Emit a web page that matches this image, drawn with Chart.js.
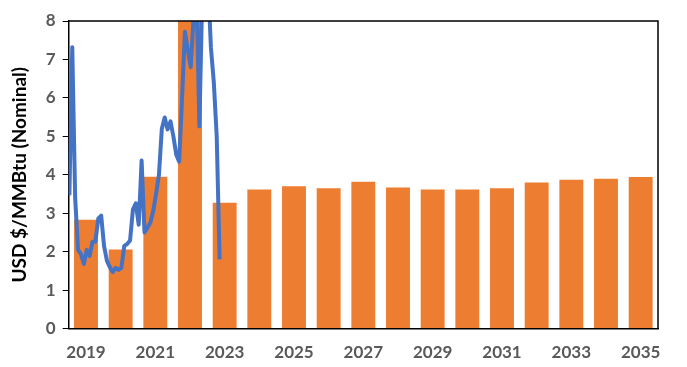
<!DOCTYPE html>
<html>
<head>
<meta charset="utf-8">
<script src="https://cdn.jsdelivr.net/npm/chart.js@4/dist/chart.umd.min.js"></script>
<style>
  html, body { margin: 0; padding: 0; background: #fff; }
  #wrap { width: 687px; height: 367px; }
</style>
</head>
<body>
<div id="wrap"><canvas id="myChart"></canvas></div>
<script>
// Annual forecast bars
const years = ["2019", "2020", "2021", "2022", "2023", "2024", "2025", "2026", "2027",
  "2028", "2029", "2030", "2031", "2032", "2033", "2034", "2035"];
const annualPrice = [2.83, 2.06, 3.95, 8.6, 3.27, 3.62, 3.70, 3.65, 3.82,
  3.67, 3.62, 3.62, 3.65, 3.80, 3.87, 3.90, 3.94];

// Monthly spot price, Jan 2019 onward (values above 8 are off the chart)
const monthlyPrice = [
  3.47, 7.32, 3.40, 2.05, 1.94, 1.68, 2.05, 1.89, 2.26, 2.26, 2.86, 2.94, // 2019
  2.15, 1.76, 1.60, 1.47, 1.58, 1.53, 1.58, 2.15, 2.20, 2.29, 3.10, 3.26, // 2020
  2.70, 4.37, 2.50, 2.62, 2.75, 3.05, 3.50, 4.00, 5.20, 5.49, 5.18, 5.39, // 2021
  5.00, 4.52, 4.34, 6.00, 7.72, 7.25, 6.80, 8.10, 8.80, 5.26, 8.70, 9.50, // 2022
  9.00, 7.30, 6.40, 5.00, 1.80                                              // 2023
];

// x position of each month in decimal years
const monthlyPoints = monthlyPrice.map((v, m) => ({ x: 2019 + (m + 0.25) / 12, y: v }));

const labelGrey = "#595959";
const tickFont = { family: "Lato, 'Open Sans', sans-serif", size: 17, weight: "bold" };

// box around the plot area (top and right edges)
const plotBorder = {
  id: "plot_border",
  afterDraw(chart) {
    const { ctx, chartArea } = chart;
    ctx.save();
    ctx.strokeStyle = "#000";
    ctx.lineWidth = 1.5;
    ctx.beginPath();
    ctx.moveTo(chartArea.left, chartArea.top);
    ctx.lineTo(chartArea.right, chartArea.top);
    ctx.lineTo(chartArea.right, chartArea.bottom);
    ctx.stroke();
    ctx.restore();
  },
};

new Chart(document.getElementById("myChart"), {
  data: {
    labels: years,
    datasets: [
      {
        type: "bar",
        label: "Annual",
        data: annualPrice,
        backgroundColor: "#ED7D31",
        grouped: false,
        categoryPercentage: 1,
        barPercentage: 0.69,
        xAxisID: "x",
        order: 1,
      },
      {
        type: "line",
        label: "Monthly",
        data: monthlyPoints,
        borderColor: "#4472C4",
        borderWidth: 4,
        pointRadius: 0,
        tension: 0,
        borderJoinStyle: "round",
        xAxisID: "xLine",
        order: 0,
      },
    ],
  },
  options: {
    responsive: true,
    maintainAspectRatio: false,
    animation: false,
    layout: { padding: { top: 21, right: 29, left: 8, bottom: -2 } },
    plugins: {
      legend: { display: false },
      tooltip: { enabled: false },
    },
    scales: {
      x: {
        type: "category",
        offset: true,
        grid: { display: false, offset: true },
        border: { color: "#000", width: 1.5 },
        ticks: {
          autoSkip: false,
          maxRotation: 0,
          padding: 6,
          color: labelGrey,
          font: tickFont,
          callback: function (value, index) {
            return index % 2 === 0 ? this.getLabelForValue(value) : "";
          },
        },
      },
      xLine: {
        type: "linear",
        display: false,
        min: 2019,
        max: 2036,
      },
      y: {
        min: 0,
        max: 8,
        grid: {
          drawOnChartArea: false,
          drawTicks: true,
          tickLength: 6,
          color: "#000",
        },
        border: { color: "#000", width: 1.5 },
        ticks: {
          stepSize: 0.5,
          padding: 7,
          color: labelGrey,
          font: tickFont,
          callback: (v) => (v % 1 === 0 ? v : ""),
        },
        title: {
          display: true,
          text: "USD $/MMBtu (Nominal)",
          color: "#000",
          font: { family: "Lato, 'Open Sans', sans-serif", size: 19, weight: "bold" },
          padding: { top: 0, bottom: 8 },
        },
      },
    },
  },
  plugins: [plotBorder],
});
</script>
</body>
</html>
